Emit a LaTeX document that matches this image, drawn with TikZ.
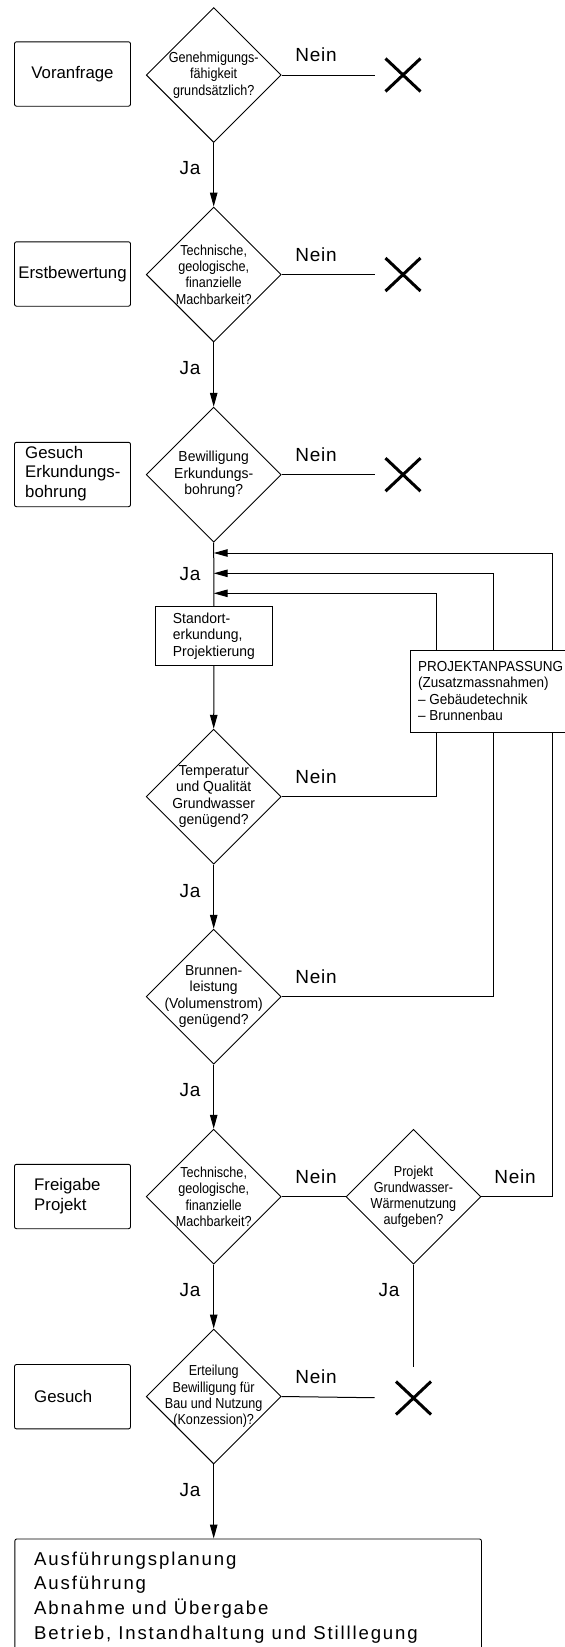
\documentclass[tikz,border=0pt]{standalone}
\usepackage{fontspec}
\setmainfont{Liberation Sans}
\newfontfamily\condf[FakeStretch=0.87]{Liberation Sans}
\newfontfamily\normf[FakeStretch=0.96]{Liberation Sans}
\newfontfamily\paf[FakeStretch=0.93]{Liberation Sans}
\newfontfamily\lblf[LetterSpace=4]{Liberation Sans}
\newfontfamily\widef[LetterSpace=10]{Liberation Sans}
\usetikzlibrary{shapes.geometric,shapes.misc,arrows.meta,calc}
\begin{document}
\begin{tikzpicture}[x=1pt,y=-1pt,
  dia/.style={draw, diamond, aspect=1, minimum width=135pt, minimum height=135pt, inner sep=0pt, line width=0.9pt},
  dtxt/.style={align=center, inner sep=0pt, font=\condf\fontsize{14.5}{16.3}\selectfont},
  dtxtn/.style={align=center, inner sep=0pt, font=\normf\fontsize{14.5}{16.5}\selectfont},
  sbox/.style={draw, rounded corners=2pt, minimum width=116pt, minimum height=64.4pt, inner sep=0pt, line width=0.9pt, font=\fontsize{16.8}{19}\selectfont},
  stxt/.style={anchor=west, align=left, inner sep=0pt, font=\fontsize{16.8}{19.5}\selectfont},
  pbox/.style={draw, minimum width=116.3pt, minimum height=58.3pt, inner sep=0pt, line width=0.9pt},
  lbl/.style={inner sep=0pt, font=\lblf\fontsize{19}{22}\selectfont},
  xmark/.style={draw, cross out, line width=3pt, minimum width=32pt, minimum height=30pt, inner sep=0pt},
  con/.style={line width=1pt},
  arr/.style={line width=1pt, -{Triangle[length=14pt,width=7.5pt]}}
]
\path[use as bounding box] (0,0) rectangle (565,1647);
\clip (0,0) rectangle (565,1647);
\fill[white] (0,0) rectangle (565,1647);

% side boxes
\node[sbox] (b1) at (72.5,74) {Voranfrage};
\node[sbox] (b2) at (72.5,274) {Erstbewertung};
\node[sbox] (b3) at (72.5,474.5) {};
\node[stxt] at (25,473.5) {Gesuch\\Erkundungs-\\bohrung};
\node[sbox] (b4) at (72.5,1196.5) {};
\node[stxt] at (34,1196) {Freigabe\\Projekt};
\node[sbox] (b5) at (72.5,1396.7) {};
\node[stxt] at (34,1396.7) {Gesuch};

% diamonds
\node[dia] (d1) at (213.7,75) {};
\node[dtxt] at (d1) {Genehmigungs-\\fähigkeit\\grundsätzlich?};
\node[dia] (d2) at (213.7,274.5) {};
\node[dtxt] at (d2) {Technische,\\geologische,\\finanzielle\\Machbarkeit?};
\node[dia] (d3) at (213.7,474.7) {};
\node[dtxtn] at (d3) {Bewilligung\\Erkundungs-\\bohrung?};
\node[dia] (d4) at (213.7,796.7) {};
\node[dtxtn] at (d4) {Temperatur\\und Qualität\\Grundwasser\\genügend?};
\node[dia] (d5) at (213.7,996.7) {};
\node[dtxtn] at (d5) {Brunnen-\\leistung\\(Volumenstrom)\\genügend?};
\node[dia] (d6) at (213.7,1196.7) {};
\node[dtxt] at (d6) {Technische,\\geologische,\\finanzielle\\Machbarkeit?};
\node[dia] (d7) at (413.5,1196.7) {};
\node[dtxt] at (d7) {Projekt\\Grundwasser-\\Wärmenutzung\\aufgeben?};
\node[dia] (d8) at (213.7,1396.5) {};
\node[dtxt] at (d8) {Erteilung\\Bewilligung für\\Bau und Nutzung\\(Konzession)?};

% process boxes
\node[pbox] (std) at (213.9,636) {};
\node[anchor=center, align=left, inner sep=0pt, font=\normf\fontsize{14.5}{16.5}\selectfont] at (std) {Standort-\\erkundung,\\Projektierung};
\node[draw, anchor=north west, minimum width=170pt, minimum height=82pt, inner sep=0pt, line width=0.9pt] (pa) at (410.3,650) {};
\node[anchor=north west, align=left, inner sep=0pt, font=\paf\fontsize{14.5}{16.5}\selectfont] at (418,661) {PROJEKTANPASSUNG\\(Zusatzmassnahmen)\\– Gebäudetechnik\\– Brunnenbau};
\node[draw, rounded corners=2pt, anchor=north west, minimum width=466.6pt, minimum height=140pt, inner sep=0pt, line width=0.9pt] (fin) at (14.4,1538.5) {};
\node[anchor=north west, align=left, inner sep=0pt, font=\widef\fontsize{18.6}{24.7}\selectfont] at (34,1551.5) {Ausführungsplanung\\Ausführung\\Abnahme und Übergabe\\Betrieb, Instandhaltung und Stilllegung};

% X marks
\node[xmark] (x1) at (403,75) {};
\node[xmark] (x2) at (403,274.5) {};
\node[xmark] (x3) at (403,474.7) {};
\node[xmark] (x4) at (413.5,1398) {};

% coordinates for feedback loops
\coordinate (c1) at (436,0);
\coordinate (c2) at (493.8,0);
\coordinate (c3) at (552.2,0);
\coordinate (j1) at (213.7,553);
\coordinate (j2) at (213.7,573.3);
\coordinate (j3) at (213.7,593.3);

% main flow
\draw[arr] (d1.south) -- (d2.north);
\draw[arr] (d2.south) -- (d3.north);
\draw[con] (d3.south) -- (std.north);
\draw[arr] (std.south) -- (d4.north);
\draw[arr] (d4.south) -- (d5.north);
\draw[arr] (d5.south) -- (d6.north);
\draw[arr] (d6.south) -- (d8.north);
\draw[arr] (d8.south) -- (d8.south |- fin.north);

% Nein exits
\draw[con, shorten >=11pt] (d1.east) -- (x1.west);
\draw[con, shorten >=11pt] (d2.east) -- (x2.west);
\draw[con, shorten >=11pt] (d3.east) -- (x3.west);
\draw[con, shorten >=21.5pt] (d8.east) -- (x4.west);
\draw[con] (d6.east) -- (d7.west);
\draw[con, shorten >=15pt] (d7.south) -- (x4.north);

% feedback
\draw[con] (d4.east) -| (c1 |- pa.south);
\draw[con] (d5.east) -| (c2 |- pa.south);
\draw[con] (d7.east) -| (c3 |- pa.south);
\draw[arr] (c1 |- pa.north) |- (j3);
\draw[arr] (c2 |- pa.north) |- (j2);
\draw[arr] (c3 |- pa.north) |- (j1);

% labels
\node[lbl] at (316,55) {Nein};
\node[lbl] at (316,255) {Nein};
\node[lbl] at (316,455) {Nein};
\node[lbl] at (316,777) {Nein};
\node[lbl] at (316,977) {Nein};
\node[lbl] at (316,1177) {Nein};
\node[lbl] at (515,1177) {Nein};
\node[lbl] at (316,1377) {Nein};
\node[lbl] at (190,168) {Ja};
\node[lbl] at (190,368) {Ja};
\node[lbl] at (190,574) {Ja};
\node[lbl] at (190,891) {Ja};
\node[lbl] at (190,1090) {Ja};
\node[lbl] at (190,1290) {Ja};
\node[lbl] at (389,1290) {Ja};
\node[lbl] at (190,1490) {Ja};
\end{tikzpicture}
\end{document}
